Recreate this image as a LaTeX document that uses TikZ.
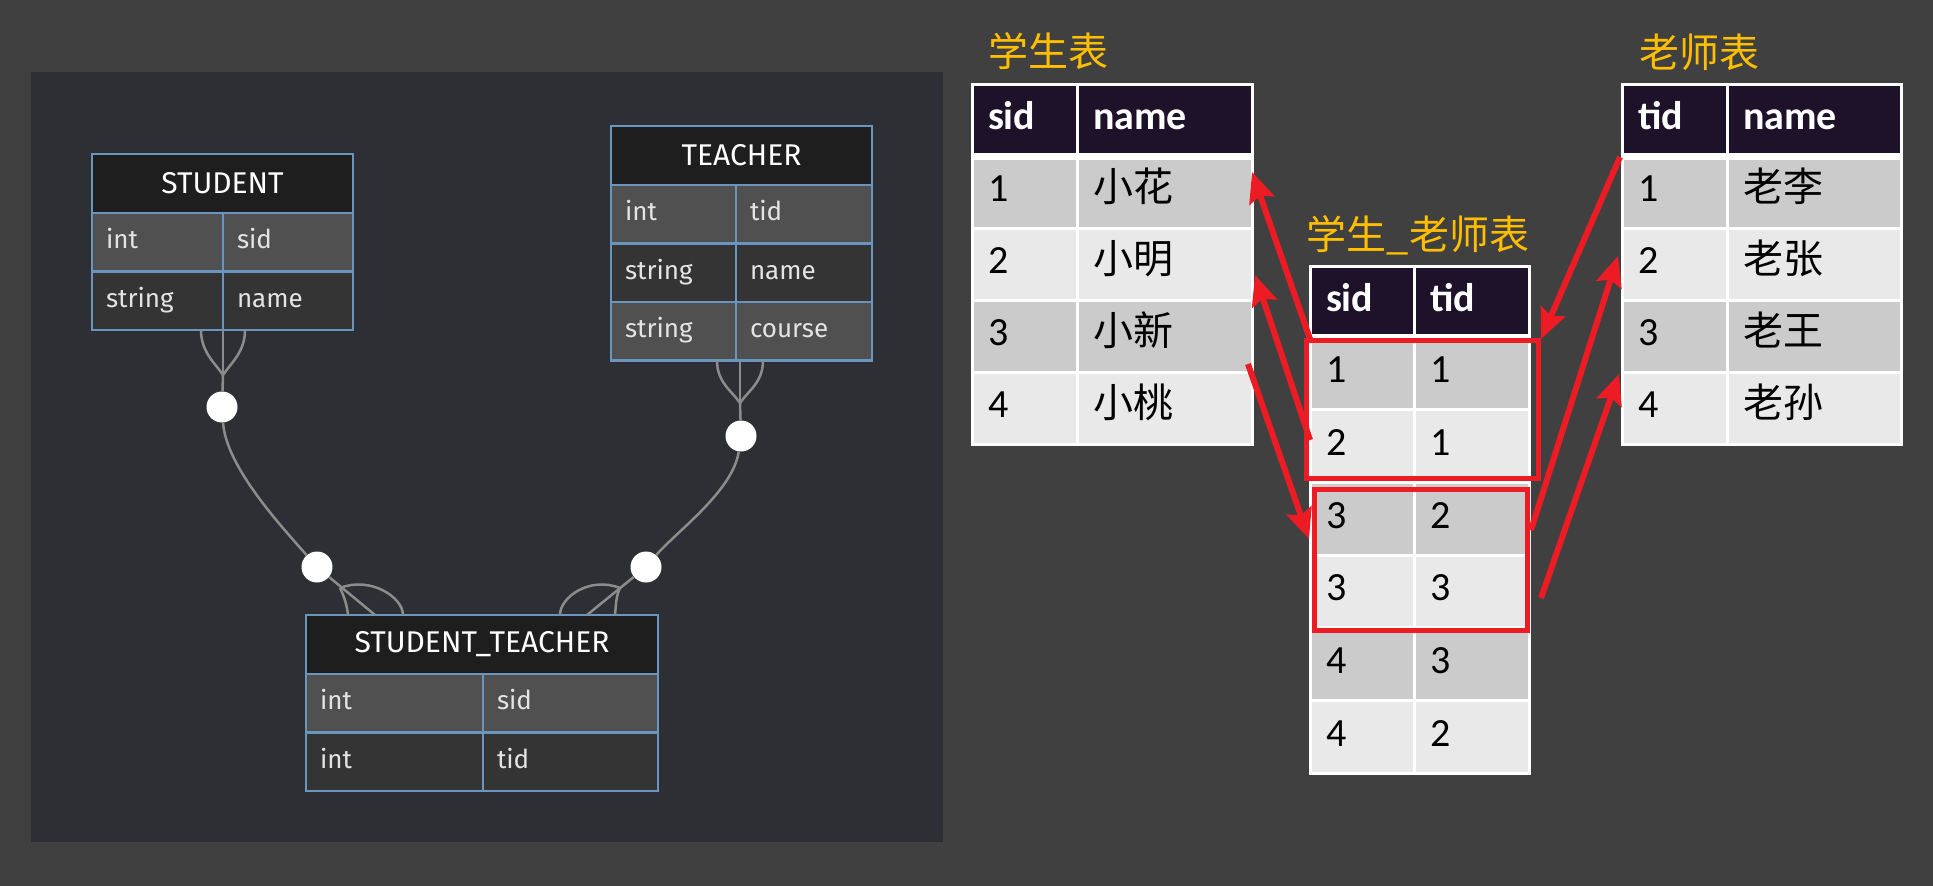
\documentclass[tikz,border=0pt]{standalone}
\usepackage{fontspec}
\usetikzlibrary{arrows.meta}
\newfontfamily\erfont{Fira Sans}
\newfontfamily\tabfont{Carlito}
\newfontfamily\cjk{Noto Sans CJK SC}
\definecolor{bgc}{RGB}{64,64,64}
\definecolor{panel}{RGB}{46,47,52}
\definecolor{erline}{RGB}{104,150,190}
\definecolor{erhead}{RGB}{30,30,30}
\definecolor{erhi}{RGB}{80,80,80}
\definecolor{erlo}{RGB}{52,52,52}
\definecolor{ertext}{RGB}{228,228,228}
\definecolor{linkgray}{RGB}{140,140,140}
\definecolor{thd}{RGB}{30,17,42}
\definecolor{rowa}{RGB}{203,203,203}
\definecolor{rowb}{RGB}{233,233,233}
\definecolor{gold}{RGB}{255,190,0}
\definecolor{redline}{RGB}{237,28,36}
\tikzset{
  erhdr/.style={draw=erline, line width=2.5pt, fill=erhead, text=white, minimum height=59pt,
    inner sep=0pt, outer sep=0pt, anchor=north west, font=\erfont\fontsize{30}{34}\selectfont},
  ercell/.style={draw=erline, line width=2.5pt, text width=#1, align=left, inner xsep=14pt,
    inner ysep=0pt, outer sep=0pt, minimum height=58.5pt, anchor=north west, text=ertext,
    text height=20pt, text depth=7pt, font=\erfont\fontsize{26}{30}\selectfont},
  joint/.style={circle, fill=white, minimum size=31pt, inner sep=0pt},
  crow/.style={draw=linkgray, line width=2.5pt},
  thead/.style={draw=white, line width=3pt, fill=thd, text=white, text width=#1, align=left,
    inner xsep=16pt, inner ysep=0pt, outer sep=0pt, minimum height=72pt, anchor=north west,
    text height=28pt, text depth=9pt, font=\tabfont\bfseries\fontsize{40}{44}\selectfont},
  tcell/.style={thead=#1, text=black, font=\tabfont\fontsize{40}{44}\selectfont},
  tabtitle/.style={text=gold, inner sep=0pt, font=\cjk\fontsize{40}{44}\selectfont},
  hl/.style={draw=redline, line width=5pt},
  fk/.style={draw=redline, line width=6pt, -{Stealth[length=30pt, width=26pt, inset=5pt]}},
}
\begin{document}
\begin{tikzpicture}[x=1pt, y=-1pt]

  \fill[bgc] (0,0) rectangle (1933,886);
  \fill[panel] (31,72) rectangle (943,842);

  \node[erhdr, minimum width=261pt] (stu) at (92,154) {STUDENT};
  \foreach \ty/\fd/\fc [count=\i] in {int/sid/erhi, string/name/erlo} {
    \node[ercell=103pt, fill=\fc] (stu-\i-a) at (92,{213+(\i-1)*58.5}) {\ty};
    \node[ercell=102pt, fill=\fc] (stu-\i-b) at (223,{213+(\i-1)*58.5}) {\fd};
  }

  \node[erhdr, minimum width=261pt] (tea) at (611,126) {TEACHER};
  \foreach \ty/\fd/\fc [count=\i] in {int/tid/erhi, string/name/erlo, string/course/erhi} {
    \node[ercell=97pt, fill=\fc] (tea-\i-a) at (611,{185+(\i-1)*58.5}) {\ty};
    \node[ercell=108pt, fill=\fc] (tea-\i-b) at (736,{185+(\i-1)*58.5}) {\fd};
  }

  \node[erhdr, minimum width=352pt] (st) at (306,615) {STUDENT\_TEACHER};
  \foreach \ty/\fd/\fc [count=\i] in {int/sid/erhi, int/tid/erlo} {
    \node[ercell=149pt, fill=\fc] (st-\i-a) at (306,{674+(\i-1)*58.5}) {\ty};
    \node[ercell=147pt, fill=\fc] (st-\i-b) at (483,{674+(\i-1)*58.5}) {\fd};
  }

  \node[joint] (j1) at (222,407) {};
  \node[joint] (j2) at (741,436) {};
  \node[joint] (j3) at (317,567) {};
  \node[joint] (j4) at (646,567) {};
  \coordinate (k1) at (223,375);
  \coordinate (k2) at (740,403);
  \coordinate (k3) at (340,588);
  \coordinate (k4) at (620,588);

  \draw[crow] (k1) -- (j1);
  \draw[crow] (k1) -- (stu-2-a.south east);
  \draw[crow] (k1) .. controls +(-8,-12) and +(0,22) .. ([xshift=-22pt]stu-2-a.south east);
  \draw[crow] (k1) .. controls +(8,-12) and +(0,22) .. ([xshift=22pt]stu-2-a.south east);

  \draw[crow] (k2) -- (j2);
  \draw[crow] (k2) -- ([xshift=4pt]tea-3-a.south east);
  \draw[crow] (k2) .. controls +(-8,-12) and +(0,22) .. ([xshift=-19pt]tea-3-a.south east);
  \draw[crow] (k2) .. controls +(8,-12) and +(0,22) .. ([xshift=27pt]tea-3-a.south east);

  \draw[crow] (j1) .. controls +(4,60) and +(-35,-40) .. (j3);
  \draw[crow] (j2) .. controls +(-8,55) and +(30,-35) .. (j4);

  \draw[crow] (j3) -- ([xshift=69pt]st.north west);
  \draw[crow] (k3) .. controls +(4,8) and +(-1,-10) .. ([xshift=42pt]st.north west);
  \draw[crow] (k3) .. controls +(30,-12) and +(0,-18) .. ([xshift=97pt]st.north west);
  \draw[crow] (j4) -- ([xshift=-71pt]st.north east);
  \draw[crow] (k4) .. controls +(-4,8) and +(1,-10) .. ([xshift=-43pt]st.north east);
  \draw[crow] (k4) .. controls +(-30,-12) and +(0,-18) .. ([xshift=-98pt]st.north east);

  \node[tabtitle] (t-stu) at (1048,51) {学生表};
  \node[tabtitle] (t-tea) at (1699,52) {老师表};
  \node[tabtitle] (t-st) at (1418,235) {学生\_老师表};

  \node[thead=73pt] (sh-a) at (972,84) {sid};
  \node[thead=143pt] (sh-b) at (1077,84) {name};
  \foreach \n/\nm/\fc [count=\i] in {1/小花/rowa, 2/小明/rowb, 3/小新/rowa, 4/小桃/rowb} {
    \node[tcell=73pt, fill=\fc] (s-\i-a) at (972,{156+(\i-1)*72}) {\n};
    \node[tcell=143pt, fill=\fc] (s-\i-b) at (1077,{156+(\i-1)*72}) {\cjk \nm};
  }
  \draw[white, line width=7pt] (sh-a.south west) -- (sh-b.south east);

  \node[thead=73pt] (th-a) at (1622,84) {tid};
  \node[thead=142pt] (th-b) at (1727,84) {name};
  \foreach \n/\nm/\fc [count=\i] in {1/老李/rowa, 2/老张/rowb, 3/老王/rowa, 4/老孙/rowb} {
    \node[tcell=73pt, fill=\fc] (t-\i-a) at (1622,{156+(\i-1)*72}) {\n};
    \node[tcell=142pt, fill=\fc] (t-\i-b) at (1727,{156+(\i-1)*72}) {\cjk \nm};
  }
  \draw[white, line width=7pt] (th-a.south west) -- (th-b.south east);

  \node[thead=72pt, minimum height=71pt] (mh-a) at (1310,266) {sid};
  \node[thead=83pt, minimum height=71pt] (mh-b) at (1414,266) {tid};
  \foreach \s/\t/\fc [count=\i] in {1/1/rowa, 2/1/rowb, 3/2/rowa, 3/3/rowb, 4/3/rowa, 4/2/rowb} {
    \node[tcell=72pt, minimum height=72.7pt, fill=\fc] (m-\i-a) at (1310,{337+(\i-1)*72.7}) {\s};
    \node[tcell=83pt, minimum height=72.7pt, fill=\fc] (m-\i-b) at (1414,{337+(\i-1)*72.7}) {\t};
  }
  \draw[white, line width=7pt] (mh-a.south west) -- (mh-b.south east);

  \draw[hl] (1306,340) rectangle (1538,478);
  \draw[hl] (1314,489) rectangle (1527,630);

  \coordinate (p1) at (1310,339);
  \coordinate (q1) at (1252,172);
  \coordinate (p2) at (1310,440);
  \coordinate (q2) at (1255,275);
  \coordinate (p3) at (1248,364);
  \coordinate (q3) at (1309,539);
  \coordinate (p4) at (1620,157);
  \coordinate (q4) at (1541,339);
  \coordinate (p5) at (1531,530);
  \coordinate (q5) at (1618,256);
  \coordinate (p6) at (1541,598);
  \coordinate (q6) at (1619,374);
  \foreach \k in {1,...,6} {
    \draw[fk] (p\k) -- (q\k);
  }

\end{tikzpicture}
\end{document}
